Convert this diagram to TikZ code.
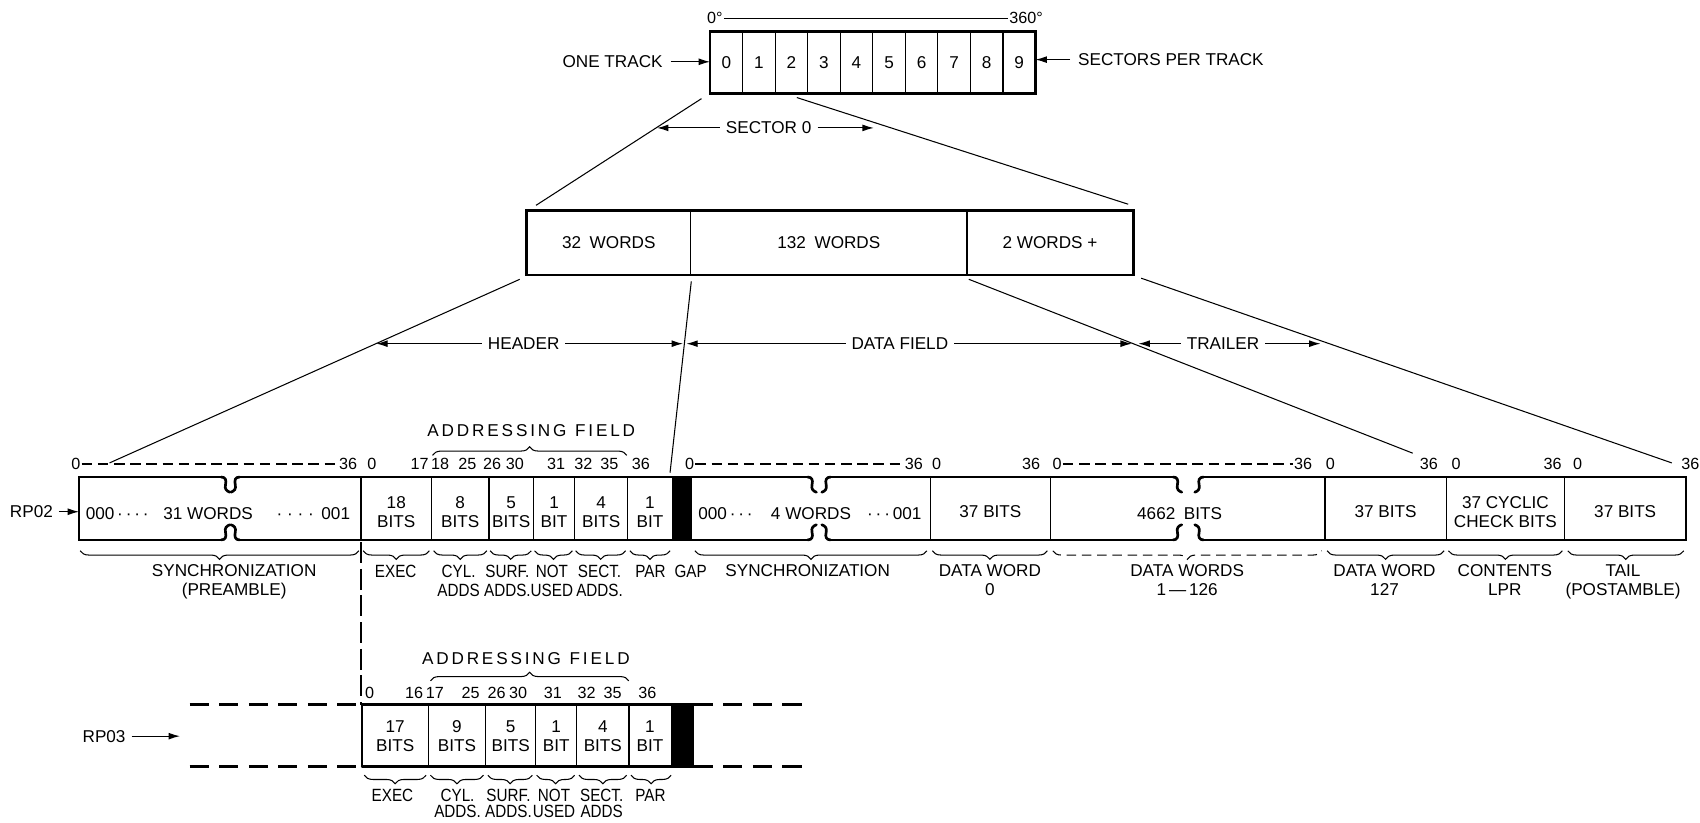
\documentclass[tikz,border=0pt]{standalone}
\usepackage{fontspec}
\setmainfont{Liberation Sans}
\newfontfamily\narrowsf[FakeStretch=0.86]{Liberation Sans}
\usetikzlibrary{arrows.meta, positioning, decorations.pathreplacing, calc}

\begin{document}
\begin{tikzpicture}[
    x=0.02cm, y=-0.02cm,
    txt/.style={font=\fontsize{9}{10}\selectfont, inner sep=1pt, align=center},
    tight/.style={txt, font=\narrowsf\fontsize{9.3}{10}\selectfont},
    num/.style={font=\fontsize{8.5}{10}\selectfont, inner sep=0.5pt},
    cell/.style={txt, draw, line width=0.7pt, inner sep=0pt},
    outline/.style={line width=1.4pt, line cap=round},
    div/.style={line width=0.7pt},
    fan/.style={line width=0.55pt},
    arr/.style={-{Latex[length=6pt, width=3.6pt]}, line width=0.6pt},
    dline/.style={line width=0.6pt, dash pattern=on 5.5pt off 3pt},
    brc/.style={decorate, decoration={brace, amplitude=4.5pt, mirror}, line width=0.55pt},
    ubrc/.style={decorate, decoration={brace, amplitude=4.5pt}, line width=0.55pt},
    ext/.style={line width=1.4pt, dash pattern=on 10pt off 5.5pt},
    vdash/.style={line width=0.6pt, dash pattern=on 11pt off 3pt},
    curl/.pic={\draw[outline] (0,0) .. controls (4,0) and (5,3) .. (4,7) .. controls (3,11) and (5,13) .. (8,14);}
]
\useasboundingbox (0,0) rectangle (1568,759);

% track
\foreach \i in {0,...,9}
  \node[txt] (sec\i) at ({670+30*\i},57.5) {\i};
\foreach \i in {1,...,9}
  \draw[div] ({655+30*\i},29) -- ({655+30*\i},86);
\draw[outline] (655,29) rectangle (955,86);
\coordinate (trkw) at (655,57);
\coordinate (trke) at (955,55);
\node[num, anchor=west] (deg0) at (651,17) {0°};
\node[num, anchor=east] (deg360) at (963,17) {360°};
\draw[fan] (deg0) -- (deg360);
\node[txt] (onetrk) at (565,57) {ONE TRACK};
\node[txt] (spt) at (1080,55) {SECTORS PER TRACK};
\draw[arr, shorten <=3pt] (onetrk) -- (trkw);
\draw[arr, shorten <=3pt] (spt.west) -- (trke);

% sector
\node[cell, minimum width=3.02cm, minimum height=1.16cm] (mw1) at (561.5,224) {32\enspace WORDS};
\node[cell, minimum width=5.1cm, minimum height=1.16cm] (mw2) at (764.5,224) {132\enspace WORDS};
\node[cell, minimum width=3.06cm, minimum height=1.16cm] (mw3) at (968.5,224) {2 WORDS +};
\draw[outline] (mw1.north west) rectangle (mw3.south east);
\coordinate (t0) at (647,91);
\coordinate (t1) at (735,90);
\coordinate (m0) at ($(mw1.north west)+(9,-5)$);
\coordinate (m1) at ($(mw3.north east)+(-5,-6)$);
\draw[fan] (t0) -- (m0);
\draw[fan] (t1) -- (m1);
\node[txt] (sect0) at (709,118) {SECTOR 0};
\coordinate (s0l) at (606,118);
\coordinate (s0r) at (806,118);
\draw[arr, shorten <=2pt] (sect0.west) -- (s0l);
\draw[arr, shorten <=2pt] (sect0.east) -- (s0r);

% fan to RP02
\coordinate (b0) at ($(mw1.south west)+(-6,4)$);
\coordinate (b1) at ($(mw1.south east)+(0,6)$);
\coordinate (b2) at ($(mw2.south east)+(1,4)$);
\coordinate (b3) at ($(mw3.south east)+(7,3)$);
\coordinate (r0) at (101,427);
\coordinate (r1) at (618,436);
\coordinate (r2) at (1303,418);
\coordinate (r3) at (1542,427);
\draw[fan] (b0) -- (r0);
\draw[fan] (b1) -- (r1);
\draw[fan] (b2) -- (r2);
\draw[fan] (b3) -- (r3);

\node[txt] (hdr) at (483,317) {HEADER};
\node[txt] (dfld) at (830,317) {DATA FIELD};
\node[txt] (trl) at (1128,317) {TRAILER};
\coordinate (h0) at (347,317);
\coordinate (h1) at (630,317);
\coordinate (d0) at (633,317);
\coordinate (d1) at (1044,317);
\coordinate (q0) at (1050,317);
\coordinate (q1) at (1218,317);
\draw[arr, shorten <=2pt] (hdr.west) -- (h0);
\draw[arr, shorten <=2pt] (hdr.east) -- (h1);
\draw[arr, shorten <=2pt] (dfld.west) -- (d0);
\draw[arr, shorten <=2pt] (dfld.east) -- (d1);
\draw[arr, shorten <=2pt] (trl.west) -- (q0);
\draw[arr, shorten <=2pt] (trl.east) -- (q1);

% RP02
\fill (620,440) rectangle (638,498);
\foreach \x in {333,398,451,492,530,579,858,969,1222,1334,1443}
  \draw[div] (\x,440) -- (\x,498);
\draw[outline] (204,440) -- (73,440) -- (73,498) -- (204,498);
\draw[outline] (221,440) -- (745,440) (221,498) -- (745,498);
\draw[outline] (766,440) -- (1082,440) (766,498) -- (1082,498);
\draw[outline] (1110,440) -- (1555,440) -- (1555,498) -- (1110,498);
\foreach \a/\b in {204/221, 745/766, 1082/1110} {
  \pic at (\a,440) {curl};
  \pic[yscale=-1] at (\a,498) {curl};
  \pic[xscale=-1] at (\b,440) {curl};
  \pic[xscale=-1, yscale=-1] at (\b,498) {curl};
}
\node[txt] (rp2) at (29,472) {RP02};
\coordinate (rp2tip) at (73,472);
\draw[arr, shorten <=2pt] (rp2) -- (rp2tip);

\node[txt, anchor=west] (pre1) at (77,474) {000\,·\,·\,·\,·};
\node[txt] (pre2) at (192,474) {31 WORDS};
\node[txt, anchor=east] (pre3) at (325,474) {·\;·\;·\;·\;\,001};
\node[txt, anchor=west] (syn1) at (642,474) {000\,·\,·\,·};
\node[txt] (syn2) at (748,474) {4 WORDS};
\node[txt, anchor=east] (syn3) at (852,474) {·\,·\,·\,001};
\node[txt] (dws) at (1088,474) {4662\enspace BITS};
\foreach \x/\t [count=\i] in {365.5/{18\\BITS}, 424.5/{8\\BITS}, 471.5/{5\\BITS}, 511/{1\\BIT},
    554.5/{4\\BITS}, 599.5/{1\\BIT}, 913.5/{37 BITS}, 1278/{37 BITS},
    1388.5/{37 CYCLIC\\CHECK BITS}, 1499/{37 BITS}}
  \node[txt] (f\i) at (\x,472) {\t};

% bit numbers RP02
\node[num] (n0) at (70,428) {0};
\node[num] (n1) at (321,428) {36};
\node[num] (n2) at (636,428) {0};
\node[num] (n3) at (843,428) {36};
\node[num] (n4) at (975,428) {0};
\node[num] (n5) at (1202,428) {36};
\draw[dline] (n0) -- (n1);
\draw[dline] (n2) -- (n3);
\draw[dline] (n4) -- (n5);
\foreach \x/\t [count=\i] in {343/0, 387/17, 406/18, 431/25, 454/26, 475/30, 513/31, 538/32,
    562/35, 591/36, 864/0, 951/36, 1227/0, 1318/36, 1343/0, 1432/36, 1455/0, 1559/36}
  \node[num] (k\i) at (\x,428) {\t};
\draw[ubrc] (399,420) -- (578,420);
\node[txt] (adf2) at (490,397) {A\,D\,D\,R\,E\,S\,S\,I\,N\,G\enspace F\,I\,E\,L\,D};

% braces RP02
\foreach \a/\b/\x/\t [count=\i] in {74/331/216/{SYNCHRONIZATION\\(PREAMBLE)},
    641/855/745/SYNCHRONIZATION,
    860/966/913/{DATA WORD\\0}, 1224/1332/1277/{DATA WORD\\127},
    1336/1441/1388/{CONTENTS\\LPR}, 1446/1553/1497/{TAIL\\(POSTAMBLE)}} {
  \draw[brc] (\a,508) -- (\b,508);
  \node[txt, anchor=north] (lb\i) at (\x,519) {\t};
}
\foreach \a/\b/\x/\t [count=\i] in {335/396/365/EXEC,
    400/449/423/{CYL.\\ADDS}, 452/490/468/{SURF.\\ADDS.}, 493/528/509/{NOT\\USED},
    531/577/553/{SECT.\\ADDS.}, 581/618/600/PAR} {
  \draw[brc] (\a,508) -- (\b,508);
  \node[tight, anchor=north] (ld\i) at (\x,519) {\t};
}
\draw[brc, dash pattern=on 5pt off 3pt] (971,508) -- (1219,508);
\node[txt, anchor=north] (lbdw) at (1095,519) {DATA WORDS\\1\,—\,126};
\node[tight, anchor=north] (lbgap) at (637,519) {GAP};

% RP03
\coordinate (x2e) at (333,500);
\coordinate (x3e) at (333,650);
\draw[vdash] (x2e) -- (x3e);
\fill (619,650) rectangle (640,707);
\foreach \x in {334,395,448,494,532,580}
  \draw[div] (\x,650) -- (\x,707);
\draw[outline] (334,650) -- (640,650) (334,707) -- (640,707);
\draw[ext] (175,650) -- (334,650) (175,707) -- (334,707);
\draw[ext] (640,650) -- (745,650) (640,707) -- (745,707);
\node[txt] (rp3) at (96,679) {RP03};
\coordinate (rp3tip) at (166,679);
\draw[arr, shorten <=2pt] (rp3) -- (rp3tip);
\foreach \x/\t [count=\i] in {364.5/{17\\BITS}, 421.5/{9\\BITS}, 471/{5\\BITS}, 513/{1\\BIT},
    556/{4\\BITS}, 599.5/{1\\BIT}}
  \node[txt] (g\i) at (\x,679) {\t};
\foreach \x/\t [count=\i] in {341/0, 382/16, 401/17, 434/25, 458/26, 478/30, 510/31, 541/32,
    565/35, 597/36}
  \node[num] (m\i) at (\x,639) {\t};
\draw[ubrc] (397,628) -- (580,628);
\node[txt] (adf3) at (485,607) {A\,D\,D\,R\,E\,S\,S\,I\,N\,G\enspace F\,I\,E\,L\,D};
\foreach \a/\b/\x/\t [count=\i] in {336/393/362/EXEC, 397/446/422/{CYL.\\[-2pt]ADDS.},
    450/491/469/{SURF.\\[-2pt]ADDS.}, 495/530/511/{NOT\\[-2pt]USED},
    534/578/555/{SECT.\\[-2pt]ADDS}, 582/619/600/PAR} {
  \draw[brc] (\a,715) -- (\b,715);
  \node[tight, anchor=north] (lc\i) at (\x,726) {\t};
}
\end{tikzpicture}
\end{document}
